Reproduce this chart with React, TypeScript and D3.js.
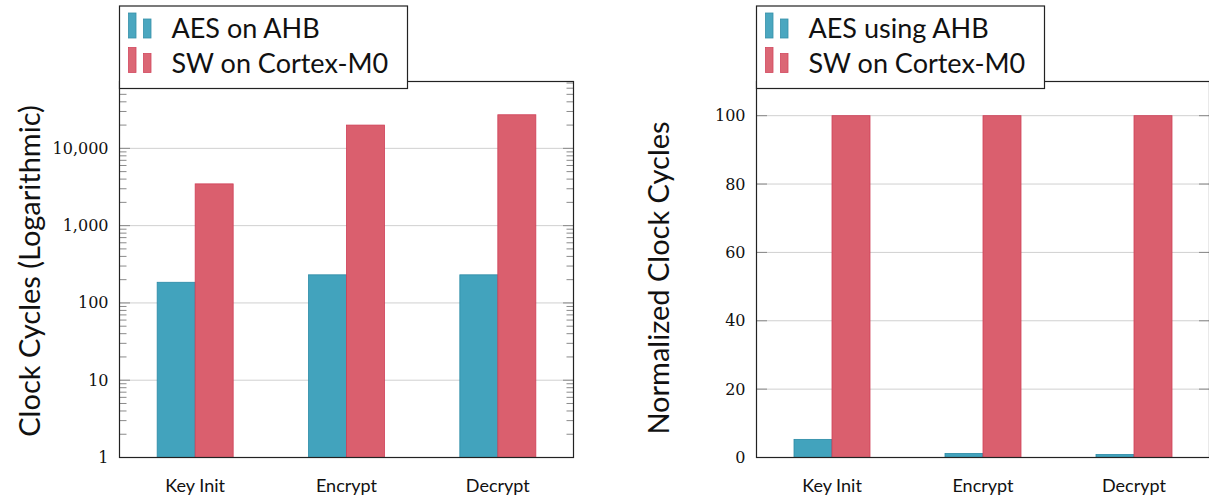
import React from 'react'
import * as d3 from 'd3'

const categories = ['Key Init', 'Encrypt', 'Decrypt']
const aesCycles = [185, 231, 231]
const swCycles = [3470, 20000, 27200]
const aesNorm = [5.3, 1.2, 0.9]
const swNorm = [100, 100, 100]
const logTicks = [1, 10, 100, 1000, 10000]
const linTicks = [0, 20, 40, 60, 80, 100]
const leftLegend = ['AES on AHB', 'SW on Cortex-M0']
const rightLegend = ['AES using AHB', 'SW on Cortex-M0']

const TEAL = '#42a3bd'
const TEAL_EDGE = '#2b8aa6'
const RED = '#da5f6e'
const RED_EDGE = '#cf3f56'
const GRID = '#d0d0d0'
const TICK = '#8a8a8a'
const AXIS = '#222'
const serif = 'DejaVu Serif, serif'
const sans = 'Lato, sans-serif'

const top = 81.5
const bottom = 457.5
const barW = 38

function Legend({ x, labels }: { x: number; labels: string[] }) {
  const colors = [[TEAL, TEAL_EDGE], [RED, RED_EDGE]]
  return (
    <g>
      <rect x={x} y={6} width={288} height={82.5} fill="#fff" stroke={AXIS} strokeWidth={1.2} />
      {labels.map((l, i) => {
        const base = 38 + i * 34.5
        return (
          <g key={l}>
            <rect x={x + 9} y={base - 25} width={7.5} height={25} fill={colors[i][0]} stroke={colors[i][1]} strokeWidth={0.8} opacity={0.95} />
            <rect x={x + 24} y={base - 19} width={7.5} height={19} fill={colors[i][0]} stroke={colors[i][1]} strokeWidth={0.8} opacity={0.95} />
            <text x={x + 52} y={base} fontFamily={sans} fontSize={27} fill="#111">{l}</text>
          </g>
        )
      })}
    </g>
  )
}

function LogPanel() {
  const x0 = 119.5
  const x1 = 573.5
  const x = d3.scalePoint<string>().domain(categories).range([x0, x1]).padding(0.5)
  const y = d3.scaleLog().domain([1, Math.pow(10, 4.865)]).range([bottom, top])
  const minor: number[] = []
  for (let k = 0; k < 5; k++) for (let m = 2; m <= 9; m++) {
    const v = m * Math.pow(10, k)
    if (v <= y.domain()[1]) minor.push(v)
  }
  return (
    <g>
      {logTicks.map(t => (
        <g key={t}>
          <line x1={x0} x2={x1} y1={y(t)} y2={y(t)} stroke={GRID} strokeWidth={1} />
          <line x1={x0} x2={x0 + 10.5} y1={y(t)} y2={y(t)} stroke={TICK} strokeWidth={1} />
          <line x1={x1 - 10.5} x2={x1} y1={y(t)} y2={y(t)} stroke={TICK} strokeWidth={1} />
          <text x={x0 - 11} y={y(t) + 5.5} textAnchor="end" fontFamily={serif} fontSize={16} fill="#111">
            {d3.format(',')(t)}
          </text>
        </g>
      ))}
      {minor.map(t => (
        <g key={'m' + t}>
          <line x1={x0} x2={x0 + 7} y1={y(t)} y2={y(t)} stroke={TICK} strokeWidth={1} />
          <line x1={x1 - 7} x2={x1} y1={y(t)} y2={y(t)} stroke={TICK} strokeWidth={1} />
        </g>
      ))}
      {categories.map((c, i) => {
        const cx = x(c) as number
        return (
          <g key={c}>
            <rect x={cx - barW} y={y(aesCycles[i])} width={barW} height={bottom - y(aesCycles[i])} fill={TEAL} stroke={TEAL_EDGE} strokeWidth={0.8} />
            <rect x={cx} y={y(swCycles[i])} width={barW} height={bottom - y(swCycles[i])} fill={RED} stroke={RED_EDGE} strokeWidth={0.8} />
            <text x={cx} y={492} textAnchor="middle" fontFamily={sans} fontSize={18} fill="#111">{c}</text>
          </g>
        )
      })}
      <rect x={x0} y={top} width={x1 - x0} height={bottom - top} fill="none" stroke={AXIS} strokeWidth={1.2} />
      <text transform={`translate(40,271) rotate(-90)`} textAnchor="middle" fontFamily={sans} fontSize={29} fill="#111">
        Clock Cycles (Logarithmic)
      </text>
      <Legend x={x0} labels={leftLegend} />
    </g>
  )
}

function LinPanel() {
  const x0 = 756.5
  const x1 = 1209.5
  const x = d3.scalePoint<string>().domain(categories).range([x0, x1]).padding(0.5)
  const y = d3.scaleLinear().domain([0, 110]).range([bottom, top])
  return (
    <g>
      {linTicks.map(t => (
        <g key={t}>
          <line x1={x0} x2={x1} y1={y(t)} y2={y(t)} stroke={GRID} strokeWidth={1} />
          <line x1={x0} x2={x0 + 10.5} y1={y(t)} y2={y(t)} stroke={TICK} strokeWidth={1} />
          <line x1={x1 - 10.5} x2={x1} y1={y(t)} y2={y(t)} stroke={TICK} strokeWidth={1} />
          <text x={x0 - 11} y={y(t) + 5.5} textAnchor="end" fontFamily={serif} fontSize={16} fill="#111">{t}</text>
        </g>
      ))}
      {categories.map((c, i) => {
        const cx = x(c) as number
        return (
          <g key={c}>
            <rect x={cx - barW} y={y(aesNorm[i])} width={barW} height={bottom - y(aesNorm[i])} fill={TEAL} stroke={TEAL_EDGE} strokeWidth={0.8} />
            <rect x={cx} y={y(swNorm[i])} width={barW} height={bottom - y(swNorm[i])} fill={RED} stroke={RED_EDGE} strokeWidth={0.8} />
            <text x={cx} y={492} textAnchor="middle" fontFamily={sans} fontSize={18} fill="#111">{c}</text>
          </g>
        )
      })}
      <rect x={x0} y={top} width={x1 - x0} height={bottom - top} fill="none" stroke={AXIS} strokeWidth={1.2} />
      <text transform={`translate(669,278) rotate(-90)`} textAnchor="middle" fontFamily={sans} fontSize={29} fill="#111">
        Normalized Clock Cycles
      </text>
      <Legend x={x0} labels={rightLegend} />
    </g>
  )
}

export default function App() {
  return (
    <svg width={1209} height={499} style={{ position: 'absolute', left: 0, top: 0, background: '#fff' }}>
      <LogPanel />
      <LinPanel />
    </svg>
  )
}
